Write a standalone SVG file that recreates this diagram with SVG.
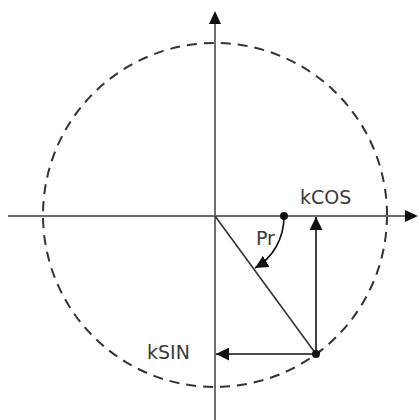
<svg xmlns="http://www.w3.org/2000/svg" width="419" height="420" viewBox="0 0 419 420">
<style>
.axis{stroke:#6e6e6e;stroke-width:2;fill:none}
.circ{stroke:#333;stroke-width:2;fill:none;stroke-dasharray:10 7}
.arr{stroke:#111;stroke-width:1.6;fill:none}
.lbl{font-family:"DejaVu Sans",Verdana,sans-serif;font-size:19px;fill:#3a3a3a}
</style>
<defs>
<marker id="ahs" viewBox="0 0 10 10" refX="10" refY="5" markerWidth="13" markerHeight="13" markerUnits="userSpaceOnUse" orient="auto">
<path d="M0,0 L10,5 L0,10 z" fill="#111"/>
</marker>
</defs>
<g id="circle"><circle class="circ" cx="215" cy="215" r="172"/></g>
<g id="axes">
<line class="axis" x1="8" y1="216" x2="405" y2="216"/>
<path d="M418,216 L405,210 L405,222 z" fill="#111"/>
<line class="axis" x1="215" y1="420" x2="215" y2="24"/>
<path d="M215,11 L209,24 L221,24 z" fill="#111"/>
</g>
<g id="connectors">
<line x1="215" y1="216" x2="316" y2="354" stroke="#333" stroke-width="1.6"/>
<line class="arr" x1="316" y1="354" x2="316" y2="217" marker-end="url(#ahs)"/>
<line class="arr" x1="316" y1="354" x2="216" y2="354" marker-end="url(#ahs)"/>
<path class="arr" d="M284,216 C284,240 272,258 255,268" marker-end="url(#ahs)"/>
</g>
<g id="points">
<circle cx="284" cy="216" r="4" fill="#111"/>
<circle cx="316" cy="354" r="4" fill="#111"/>
</g>
<g id="labels">
<text class="lbl" x="300" y="204">kCOS</text>
<text class="lbl" x="256" y="245">Pr</text>
<text class="lbl" x="147" y="359">kSIN</text>
</g>
</svg>
